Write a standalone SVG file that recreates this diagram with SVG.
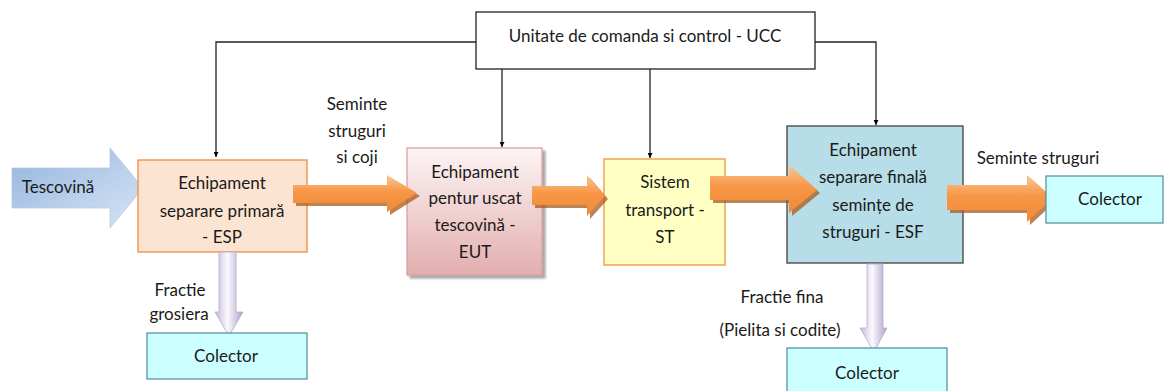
<svg xmlns="http://www.w3.org/2000/svg" width="1164" height="391" viewBox="0 0 1164 391">
  <defs>
    <linearGradient id="gOrange" x1="0" y1="0" x2="0" y2="1">
      <stop offset="0" stop-color="#fbc795"/>
      <stop offset="0.45" stop-color="#f79646"/>
      <stop offset="1" stop-color="#ef8a38"/>
    </linearGradient>
    <linearGradient id="gBlue" x1="0" y1="0" x2="1" y2="1">
      <stop offset="0" stop-color="#93b4dc"/>
      <stop offset="0.6" stop-color="#bdd2ec"/>
      <stop offset="1" stop-color="#d8e4f4"/>
    </linearGradient>
    <linearGradient id="gPurple" x1="0" y1="0" x2="1" y2="0">
      <stop offset="0" stop-color="#c4b6da"/>
      <stop offset="0.45" stop-color="#fbfaff"/>
      <stop offset="1" stop-color="#b0a0c8"/>
    </linearGradient>
    <linearGradient id="gPink" x1="0" y1="0" x2="0" y2="1">
      <stop offset="0" stop-color="#fdf5f5"/>
      <stop offset="1" stop-color="#e3aeae"/>
    </linearGradient>
    <filter id="drop" x="-10%" y="-10%" width="130%" height="130%">
      <feGaussianBlur in="SourceAlpha" stdDeviation="1.2"/>
      <feOffset dx="3" dy="3" result="o"/>
      <feComponentTransfer><feFuncA type="linear" slope="0.35"/></feComponentTransfer>
      <feMerge><feMergeNode/><feMergeNode in="SourceGraphic"/></feMerge>
    </filter>
    <marker id="tri" viewBox="0 0 10 10" refX="10" refY="5" markerWidth="5" markerHeight="5" orient="auto" markerUnits="userSpaceOnUse">
      <path d="M0,0 L10,5 L0,10 z" fill="#000"/>
    </marker>
    <style>
      text { font-family: Lato, "Open Sans", "Liberation Sans", sans-serif; font-size: 17px; fill: #1a1a1a; text-anchor: middle; }
      .ctl { fill: none; stroke: #222; stroke-width: 1.3; }
      .flow { fill: url(#gOrange); }
      .flowsh { fill: #a85a1c; opacity: 0.75; }
      .down { fill: url(#gPurple); stroke: #b8a9cf; stroke-width: 0.8; }
      .col { fill: #ccffff; stroke: #4f8a9a; stroke-width: 1.2; }
    </style>
  </defs>

  <!-- control lines from UCC -->
  <g id="connectors">
    <polyline class="ctl" points="476,42 216,42 216,157" marker-end="url(#tri)"/>
    <polyline class="ctl" points="815,42 876,42 876,125" marker-end="url(#tri)"/>
    <line class="ctl" x1="502" y1="69" x2="502" y2="147" marker-end="url(#tri)"/>
    <line class="ctl" x1="650" y1="69" x2="650" y2="158" marker-end="url(#tri)"/>
  </g>

  <!-- control unit -->
  <g id="ucc">
    <rect x="476" y="12" width="339" height="57" fill="#fff" stroke="#222" stroke-width="1.3"/>
    <text x="645" y="42">Unitate de comanda si control - UCC</text>
  </g>

  <!-- input arrow -->
  <g id="tescovina">
    <path d="M12,168 L110,168 L110,148 L143,188 L110,228 L110,208 L12,208 Z" fill="url(#gBlue)" stroke="#b5c9e4" stroke-width="0.8"/>
    <text x="58" y="193">Tescovină</text>
  </g>

  <!-- primary separation -->
  <g id="esp">
    <rect x="138" y="160" width="169" height="92" fill="#fce4d2" stroke="#f08c3c" stroke-width="1.3"/>
    <text x="222" y="189">Echipament</text>
    <text x="222" y="217">separare primară</text>
    <text x="222" y="243">- ESP</text>
  </g>

  <!-- dryer -->
  <g id="eut">
    <rect x="407" y="148" width="135" height="127" fill="url(#gPink)" stroke="#d99898" stroke-width="1.2" filter="url(#drop)"/>
    <text x="475" y="178">Echipament</text>
    <text x="475" y="204">pentur uscat</text>
    <text x="475" y="231">tescovină -</text>
    <text x="475" y="258">EUT</text>
  </g>

  <!-- transport -->
  <g id="st">
    <rect x="604" y="159" width="121" height="106" fill="#ffffc4" stroke="#f0943e" stroke-width="1.3"/>
    <text x="665" y="188">Sistem</text>
    <text x="665" y="216">transport -</text>
    <text x="665" y="243">ST</text>
  </g>

  <!-- final separation -->
  <g id="esf">
    <rect x="787" y="126" width="176" height="137" fill="#b7dde8" stroke="#404040" stroke-width="1.3"/>
    <text x="873" y="156">Echipament</text>
    <text x="873" y="183">separare finală</text>
    <text x="873" y="211">semințe de</text>
    <text x="873" y="238">struguri - ESF</text>
  </g>

  <!-- material flow arrows -->
  <g id="flows">
    <path class="flowsh" d="M296,188 L390,188 L390,178 L420,196 L390,215 L390,206 L296,206 Z"/>
    <path class="flow" d="M293,185 L387,185 L387,175 L417,193 L387,212 L387,203 L293,203 Z"/>
    <path class="flowsh" d="M535,189 L590,189 L590,178 L608,199 L590,219 L590,208 L535,208 Z"/>
    <path class="flow" d="M532,186 L587,186 L587,175 L605,196 L587,216 L587,205 L532,205 Z"/>
    <path class="flowsh" d="M713,179 L792,179 L792,168 L820,193 L792,216 L792,203 L713,203 Z"/>
    <path class="flow" d="M710,176 L789,176 L789,165 L817,190 L789,213 L789,200 L710,200 Z"/>
    <path class="flowsh" d="M950,188 L1030,188 L1030,178 L1056,201 L1030,225 L1030,213 L950,213 Z"/>
    <path class="flow" d="M947,185 L1027,185 L1027,175 L1053,198 L1027,222 L1027,210 L947,210 Z"/>
    <!-- discharge arrows -->
    <path class="down" d="M219,252 L236,252 L236,312 L243,312 L229,336 L215,312 L219,312 Z"/>
    <path class="down" d="M867,264 L883,264 L883,328 L887,328 L874,352 L860,328 L867,328 Z"/>
  </g>

  <!-- labels -->
  <g id="labels">
    <text x="357" y="110">Seminte</text>
    <text x="357" y="137">struguri</text>
    <text x="357" y="163">si coji</text>
    <text x="1038" y="164">Seminte struguri</text>
    <text x="180" y="296">Fractie</text>
    <text x="179" y="320">grosiera</text>
    <text x="782" y="303">Fractie fina</text>
    <text x="780" y="336">(Pielita si codite)</text>
  </g>

  <!-- collectors -->
  <g id="colector1">
    <rect class="col" x="147" y="333" width="160" height="46"/>
    <text x="226" y="362">Colector</text>
  </g>
  <g id="colector2">
    <rect class="col" x="787" y="348" width="160" height="50"/>
    <text x="867" y="379">Colector</text>
  </g>
  <g id="colector3">
    <rect class="col" x="1046" y="176" width="117" height="47"/>
    <text x="1110" y="205">Colector</text>
  </g>
</svg>
